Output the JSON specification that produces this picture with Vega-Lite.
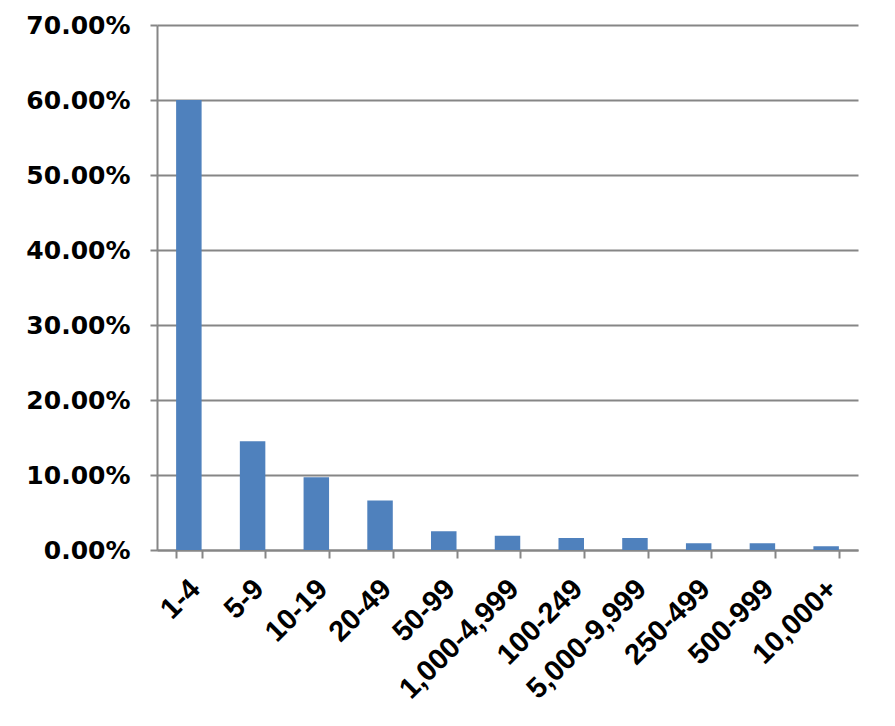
{
  "$schema": "https://vega.github.io/schema/vega-lite/v6.json",
  "width": 701,
  "height": 525,
  "autosize": {"type": "none"},
  "padding": {"left": 157, "top": 25, "right": 37, "bottom": 176},
  "background": "white",
  "data": {
    "values": [
      {"category": "1-4", "share": 0.600},
      {"category": "5-9", "share": 0.145},
      {"category": "10-19", "share": 0.097},
      {"category": "20-49", "share": 0.066},
      {"category": "50-99", "share": 0.025},
      {"category": "1,000-4,999", "share": 0.019},
      {"category": "100-249", "share": 0.016},
      {"category": "5,000-9,999", "share": 0.016},
      {"category": "250-499", "share": 0.009},
      {"category": "500-999", "share": 0.009},
      {"category": "10,000+", "share": 0.005}
    ]
  },
  "config": {
    "view": {"stroke": null},
    "axis": {
      "labelFont": "DejaVu Sans",
      "labelFontWeight": "bold",
      "labelColor": "#000000",
      "domainColor": "#868686",
      "domainWidth": 2,
      "tickColor": "#868686",
      "tickWidth": 2,
      "gridColor": "#868686",
      "gridWidth": 2
    }
  },
  "mark": {"type": "bar", "color": "#4F81BD"},
  "encoding": {
    "x": {
      "field": "category",
      "type": "nominal",
      "sort": null,
      "scale": {"paddingInner": 0.6, "paddingOuter": 0.3},
      "axis": {
        "title": null,
        "labelFont": "Liberation Sans",
        "labelAngle": -45,
        "labelAlign": "right",
        "labelBaseline": "middle",
        "labelFontSize": 29,
        "labelPadding": 26,
        "labelOffset": 6,
        "tickSize": 8,
        "tickBand": "extent",
        "grid": false
      }
    },
    "y": {
      "field": "share",
      "type": "quantitative",
      "scale": {"domain": [0, 0.7], "nice": false},
      "axis": {
        "title": null,
        "format": ".2%",
        "values": [0, 0.1, 0.2, 0.3, 0.4, 0.5, 0.6, 0.7],
        "labelFontSize": 25,
        "labelPadding": 20,
        "tickSize": 7,
        "grid": true
      }
    }
  }
}
